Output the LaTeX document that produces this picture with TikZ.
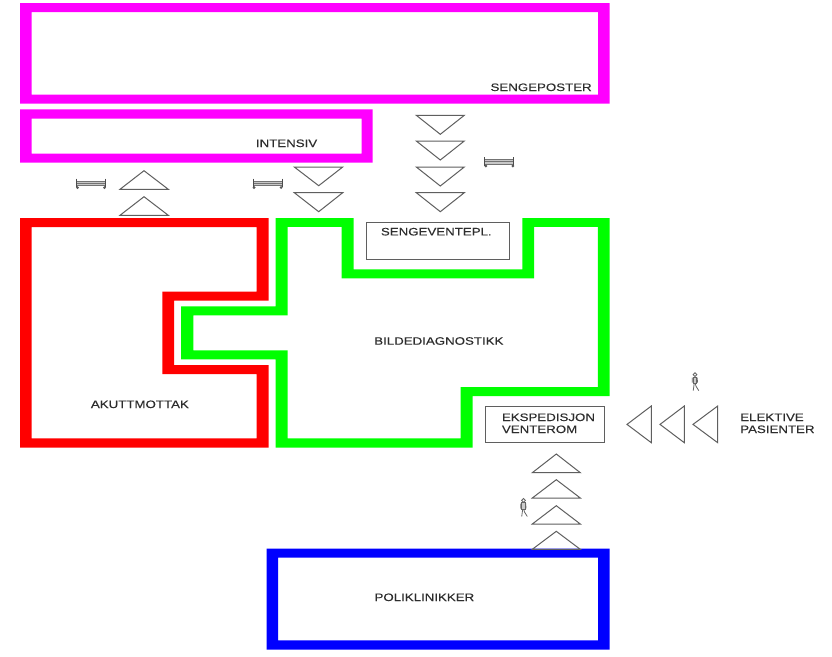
\documentclass[tikz,border=0pt]{standalone}
\usepackage{fontspec}
\setmainfont{Liberation Sans}
\newfontfamily\roomfont[FakeBold=0.25]{Liberation Sans}
\definecolor{wallmag}{RGB}{255,0,255}
\definecolor{wallred}{RGB}{255,0,0}
\definecolor{wallgreen}{RGB}{0,255,0}
\definecolor{wallblue}{RGB}{0,0,255}
\definecolor{inkline}{RGB}{95,95,95}
\definecolor{inktext}{RGB}{45,45,45}
\tikzset{
  wall/.style={fill=#1,even odd rule,draw=none},
  flowtri/.style={draw=inkline,line width=1pt,line join=miter,fill=none},
  roomlabel/.style={font=\roomfont\fontsize{10.8}{12}\selectfont,text=inktext,inner sep=0pt,anchor=west,xscale=1.23,transform shape},
  framebox/.style={draw=inkline,line width=1pt,fill=white},
  pics/bedicon/.style={code={
    \fill[black!22] (1,4.2) rectangle (29,7.6);
    \draw[black!55,line width=0.5pt] (1,3.6)--(29,3.6) (1,5.7)--(29,5.7) (1,7.8)--(29,7.8);
    \draw[black!70,line width=0.9pt] (0.5,1)--(0.5,9.8) (29.5,1)--(29.5,9.8);
    \fill[black!65] (1.5,10) circle (1.5) (28.5,10) circle (1.5);
  }},
  pics/walkericon/.style={code={
    \draw[black!60,line width=0.8pt,fill=white] (0,1.9) circle (1.9);
    \draw[black!60,line width=0.8pt,fill=black!20] (-2,4.2) rectangle (1.6,10.8);
    \draw[black!60,line width=0.7pt] (-2.8,5)--(-2.8,10) (2.2,5)--(2.6,10);
    \draw[black!60,line width=0.8pt] (-0.8,10.8)--(-1.8,18) (0.3,10.8)--(1,13.5)--(3.8,18);
  }}
}
\begin{document}
\begin{tikzpicture}[x=1pt,y=-1pt]
\useasboundingbox (0,0) rectangle (832,656);
\fill[white] (0,0) rectangle (832,656);

% walls
\fill[wall=wallmag] (20,3) rectangle (609.7,103.7) (31.7,12) rectangle (598,94.7);
\fill[wall=wallmag] (20,109.3) rectangle (372.7,162.7) (31.7,118.7) rectangle (361.7,153.7);
\fill[wall=wallred]
  (20,218)--(268.5,218)--(268.5,300.7)--(174,300.7)--(174,365)--(268.5,365)--(268.5,447.6)--(20,447.6)--cycle
  (31.7,227)--(256.7,227)--(256.7,291.7)--(162.3,291.7)--(162.3,374.2)--(256.7,374.2)--(256.7,438.4)--(31.7,438.4)--cycle;
\fill[wall=wallgreen]
  (275.7,218)--(353.7,218)--(353.7,269.3)--(522.3,269.3)--(522.3,218)--(609.7,218)--(609.7,396)--(472.7,396)--(472.7,447.6)--(275.7,447.6)--(275.7,359.3)--(181,359.3)--(181,306.3)--(275.7,306.3)--cycle
  (287.7,226.8)--(341.7,226.8)--(341.7,278.3)--(534,278.3)--(534,226.8)--(597.9,226.8)--(597.9,387.2)--(460.7,387.2)--(460.7,438.4)--(287.7,438.4)--(287.7,350.3)--(193.3,350.3)--(193.3,315.3)--(287.7,315.3)--cycle;
\fill[wall=wallblue] (266.7,548.7) rectangle (609.7,649.7) (278,557.7) rectangle (598,640.3);

% small rooms
\draw[framebox] (366.7,222.3) rectangle (509.3,259.3);
\draw[framebox] (485,406) rectangle (604,442.7);

% flow triangles
\foreach \ya/\yb in {170.7/189.3,196.7/215.3}
  \draw[flowtri] (144,\ya)--(168.3,\yb)--(120,\yb)--cycle;
\foreach \yb/\ya in {167/185.7,192.7/211.7}
  \draw[flowtri] (294.3,\yb)--(342.7,\yb)--(318.7,\ya)--cycle;
\foreach \yb/\ya in {115.3/134.3,141/160,167/186,192.7/211.7}
  \draw[flowtri] (416.3,\yb)--(464.3,\yb)--(440.3,\ya)--cycle;
\foreach \ya/\yb in {454/472.7,479.7/498,505.7/524,531.3/549.3}
  \draw[flowtri] (556.3,\ya)--(580.3,\yb)--(532.3,\yb)--cycle;
\foreach \xa/\xb in {627/651.3,660/684.3,693/717.7}
  \draw[flowtri] (\xa,424.4)--(\xb,406)--(\xb,442.7)--cycle;

% icons
\pic at (76,177.5) {bedicon};
\pic at (252.5,177.5) {bedicon};
\pic at (484.3,156) {bedicon};
\pic at (695,372.7) {walkericon};
\pic at (523.5,498.5) {walkericon};

% labels
\node[roomlabel] (sengeposter) at (490.3,87.3) {SENGEPOSTER};
\node[roomlabel] (intensiv) at (255.7,143.3) {INTENSIV};
\node[roomlabel] (sengevente) at (380.7,231.7) {SENGEVENTEPL.};
\node[roomlabel] (bildediag) at (374,341) {BILDEDIAGNOSTIKK};
\node[roomlabel] (akutt) at (90.7,404.3) {AKUTTMOTTAK};
\node[roomlabel] (ekspedisjon) at (501.7,417.3) {EKSPEDISJON};
\node[roomlabel] (venterom) at (501.7,429.3) {VENTEROM};
\node[roomlabel] (elektive) at (740,417.3) {ELEKTIVE};
\node[roomlabel] (pasienter) at (740,429.3) {PASIENTER};
\node[roomlabel] (poliklinikker) at (374.3,597.3) {POLIKLINIKKER};
\end{tikzpicture}
\end{document}
